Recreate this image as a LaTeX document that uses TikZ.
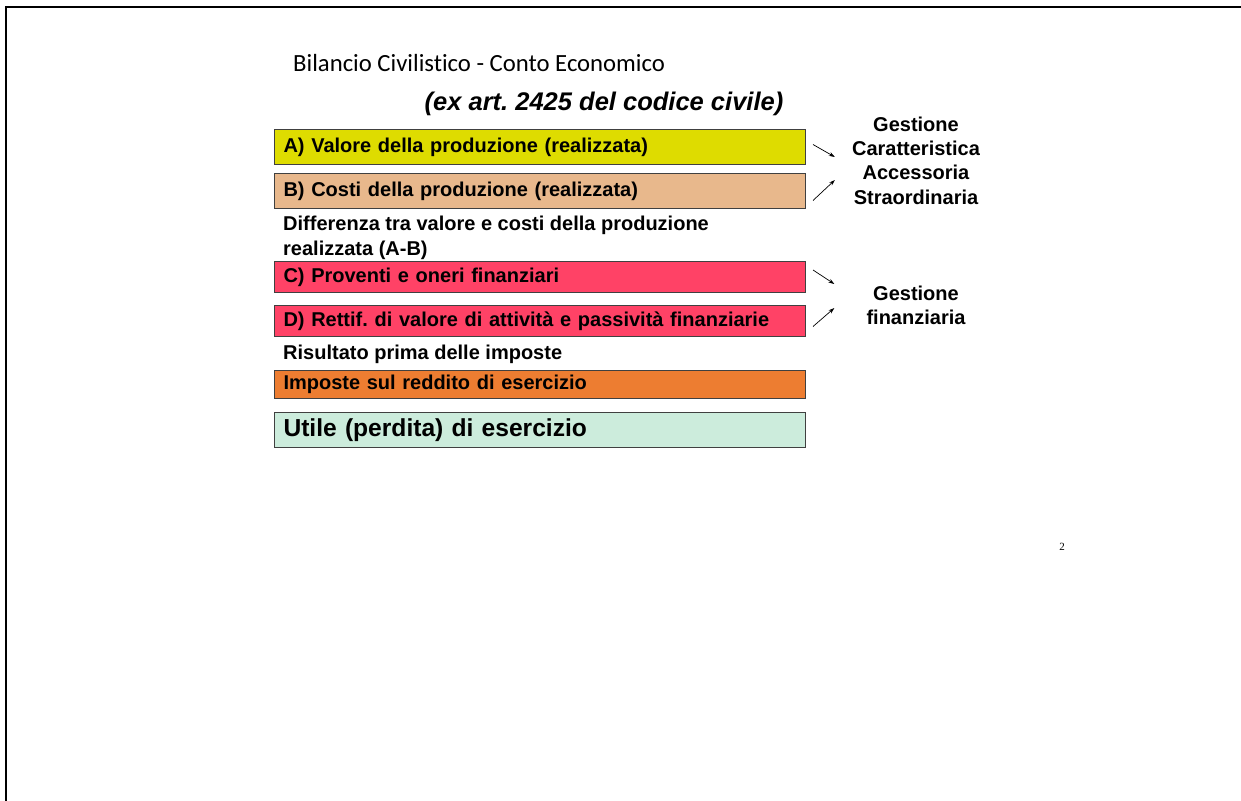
\documentclass[tikz,border=0pt]{standalone}
\usepackage{fontspec}
\setmainfont{Liberation Sans}
\newfontfamily\calibrifont[Ligatures=NoCommon]{Carlito}
\newfontfamily\timesfont{Liberation Serif}
\usetikzlibrary{arrows.meta,calc}
\frenchspacing
\definecolor{cA}{RGB}{222,220,0}
\definecolor{cB}{RGB}{232,184,140}
\definecolor{cCD}{RGB}{255,66,102}
\definecolor{cImp}{RGB}{237,125,49}
\definecolor{cUt}{RGB}{204,236,220}
\tikzset{
  rowbox/.style={draw=black!75, line width=1pt, anchor=north west, minimum width=531pt,
    text width=513pt, inner xsep=9pt, inner ysep=0pt, align=left,
    font=\fontsize{20}{24}\selectfont\bfseries},
  plain/.style={anchor=west, inner sep=0pt, align=left, font=\fontsize{20}{25}\selectfont\bfseries},
  side/.style={align=center, inner sep=0pt, font=\fontsize{20}{24.3}\selectfont\bfseries},
  arr/.style={line width=0.7pt, -{Stealth[length=6pt,width=4pt]}}
}
\begin{document}
\begin{tikzpicture}[x=1pt,y=-1pt]
\useasboundingbox (0,0) rectangle (1241,800);
\draw[line width=2pt] (5.5,801) -- (5.5,7) -- (1242,7);

\node[anchor=west, inner sep=0pt, font=\calibrifont\fontsize{24.7}{28}\selectfont] (title) at (293,63) {Bilancio Civilistico - Conto Economico};
\node[inner sep=0pt, font=\fontsize{25.5}{28}\selectfont\bfseries\itshape] (sub) at (604,104) {(ex art. 2425 del codice civile)};

\node[rowbox, fill=cA, minimum height=35pt] (A) at (274,129) {A) Valore della produzione (realizzata)};
\node[rowbox, fill=cB, minimum height=35pt] (B) at (274,173) {B) Costi della produzione (realizzata)};
\node[plain] (diff) at (283,237.5) {Differenza tra valore e costi della produzione\\realizzata (A-B)};
\node[rowbox, fill=cCD, minimum height=31pt] (C) at (274,261) {C) Proventi e oneri finanziari};
\node[rowbox, fill=cCD, minimum height=31pt] (D) at (274,305) {D) Rettif. di valore di attività e passività finanziarie};
\node[plain] (ris) at (283,354) {Risultato prima delle imposte};
\node[rowbox, fill=cImp, minimum height=28pt] (imp) at (274,370) {Imposte sul reddito di esercizio};
\node[rowbox, fill=cUt, minimum height=35pt, font=\fontsize{24.6}{28}\selectfont\bfseries] (ut) at (274,412) {Utile (perdita) di esercizio};

\node[side] (g1) at (916,160.5) {Gestione\\Caratteristica\\Accessoria\\Straordinaria};
\node[side] (g2) at (916,305.5) {Gestione\\finanziaria};

\draw[arr] ($(A.east)+(7,-2.5)$) -- ($(g1.west)+(-17,-3.5)$);
\draw[arr] ($(B.east)+(7,9.5)$) -- ($(g1.west)+(-17,19.5)$);
\draw[arr] ($(C.east)+(7,-7)$) -- ($(g2.west)+(-32,-21.5)$);
\draw[arr] ($(D.east)+(7,5.5)$) -- ($(g2.west)+(-32,2.5)$);

\node[inner sep=0pt, font=\timesfont\fontsize{11}{12}\selectfont] (pg) at (1062,547) {2};
\end{tikzpicture}
\end{document}
